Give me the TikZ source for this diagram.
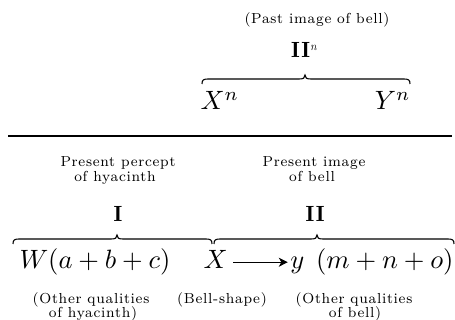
\documentclass[tikz,border=0pt]{standalone}
\usepackage{fontspec}
\newfontfamily\labfont{lmroman8-regular.otf}[LetterSpace=5]
\newfontfamily\numfont{lmromandemi10-regular.otf}
\usetikzlibrary{arrows.meta,calc}
\newcommand{\bracepath}[4]{%
  \draw[brc] (#1,#4+5) .. controls (#1,#4+1) and (#1+1.5,#4) .. (#1+6,#4) -- (#3-6,#4)
     .. controls (#3-1.5,#4) and (#3,#4-1) .. (#3,#4-4)
     .. controls (#3,#4-1) and (#3+1.5,#4) .. (#3+6,#4) -- (#2-6,#4)
     .. controls (#2-1.5,#4) and (#2,#4+1) .. (#2,#4+5);}
\tikzset{
  lab/.style={inner sep=0pt, anchor=base, font=\labfont\fontsize{14.5}{17}\selectfont},
  num/.style={inner sep=0pt, anchor=base, font=\numfont\fontsize{22}{26}\selectfont},
  mth/.style={inner sep=0pt, font=\fontsize{10}{12}\selectfont, scale=2.65},
  brc/.style={line width=1.1pt},
  hrule/.style={line width=2pt},
  arr/.style={line width=1pt, -{Stealth[length=9pt,width=9pt,inset=2.5pt]}}
}
\begin{document}
\begin{tikzpicture}[x=1pt,y=-1pt]
\useasboundingbox (0,0) rectangle (455,320);
% upper part
\node[lab] (past) at (317,24) {(Past image of bell)};
\node[num,anchor=base west] (IIn) at (291,58) {I\kern1.5pt I\raisebox{7.5pt}{\normalfont\fontsize{12}{14}\selectfont\itshape n}};
\bracepath{202}{410}{305}{79}
\node[mth,anchor=base west] (Xn) at (200,110) {$X^{n}$};
\node[mth,anchor=base east] (Yn) at (411,110) {$Y^{n}$};
% rule
\coordinate (rl) at (8,136);
\coordinate (rr) at (452,136);
\draw[hrule] (rl) -- (rr);
% lower labels
\node[lab] (pp1) at (118,167) {Present percept};
\node[lab] (pp2) at (115,182) {of hyacinth};
\node[lab] (pi1) at (314,167) {Present image};
\node[lab] (pi2) at (312,182) {of bell};
\node[num] (I) at (118,222) {I};
\node[num] (II) at (315,222) {I\kern1.5pt I};
\bracepath{13}{212}{117}{239}
\bracepath{214}{454}{317}{239}
% formula
\node[mth,anchor=base west] (W) at (19,269) {$W(a+b+c)$};
\node[mth,anchor=base west] (X) at (203,269) {$X$};
\node[mth,anchor=base east] (ym) at (454,269) {$y\;\,(m+n+o)$};
\draw[arr] ($(X.base east)+(5,-6.8)$) -- ($(ym.base west)+(-2,-6.8)$);
% bottom labels
\node[lab] (oq1) at (91,303) {(Other qualities};
\node[lab] (oq2) at (93,317) {of hyacinth)};
\node[lab] (bs) at (222,303) {(Bell-shape)};
\node[lab] (ob1) at (354,303) {(Other qualities};
\node[lab] (ob2) at (355,317) {of bell)};
\end{tikzpicture}
\end{document}
